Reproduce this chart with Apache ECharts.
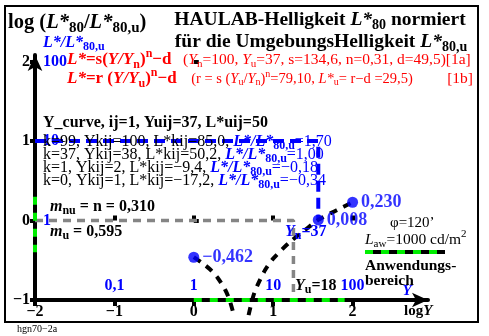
<!DOCTYPE html>
<html><head><meta charset="utf-8">
<script src="https://cdn.jsdelivr.net/npm/echarts@6/dist/echarts.min.js"></script>
<style>html,body{margin:0;padding:0;background:#fff}#c{width:489px;height:336px}</style>
</head><body><div id="c"></div>
<script>
// ---------- data ----------
const xTicks = [-2, -1, 0, 1, 2];
const xTickLabels = ['−2', '−1', '0', '1', '2'];
const xBlueTicks = [-1, 0, 1, 2];
const xBlueLabels = ['0,1', '1', '10', '100'];
const yTicks = [-1, 0, 1, 2];
const yTickLabels = ['−1', '0', '1', '2'];
const yBlueTicks = [0, 1, 2];
const yBlueLabels = ['1', '10', '100'];

const curveLeftLogY = [0, 0.1, 0.2, 0.3, 0.4, 0.45, 0.5];
const curveLeftVal = [-0.46, -0.53, -0.61, -0.72, -0.88, -1.0, -1.17];
const curveRightLogY = [0.69, 0.75, 0.8, 0.9, 1.0, 1.2, 1.4, 1.568, 1.8, 2.0];
const curveRightVal = [-1.19, -0.95, -0.82, -0.62, -0.48, -0.28, -0.12, 0.008, 0.13, 0.23];

const dotLogY = [0, 1.568, 2];
const dotVal = [-0.462, 0.008, 0.230];
const dotLabels = ['−0,462', '0,008', '0,230'];

const grayRefX = [-2, 1.255, 1.255];
const grayRefY = [0, 0, -1];
const blueRefX = [-2, 1.568, 1.568];
const blueRefY = [1, 1, 0.008];
const greenXRange = [0, 1.9];
const greenYRange = [0.3, -0.4];

const kRows = ['99', '37', '1', '0'];
const ykRows = ['100', '38', '2', '1'];
const lkRows = ['85,0', '50,2', '−9,4', '−17,2'];
const ratioRows = ['1,70', '1,00', '−0,18', '−0,34'];

// ---------- styling helpers ----------
const F = "'Liberation Serif','Times New Roman',serif";
const BLUE = '#0000ff', RED = '#ff0000', GREEN = '#00ee00', GRAY = '#858585';
function R(color, size, pre) {
  pre = pre || '';
  const base = {fontFamily: F, fill: color, color: color, fontSize: size, fontWeight: 'normal', fontStyle: 'normal'};
  const s = Math.round(size * 0.72);
  const o = {};
  o[pre + 'n'] = Object.assign({}, base);
  o[pre + 'b'] = Object.assign({}, base, {fontWeight: 'bold'});
  o[pre + 'i'] = Object.assign({}, base, {fontStyle: 'italic'});
  o[pre + 'bi'] = Object.assign({}, base, {fontWeight: 'bold', fontStyle: 'italic'});
  o[pre + 's'] = Object.assign({}, base, {fontSize: s, padding: [Math.round(size * 0.5), 0, 0, 0]});
  o[pre + 'sb'] = Object.assign({}, base, {fontSize: s, fontWeight: 'bold', padding: [Math.round(size * 0.5), 0, 0, 0]});
  o[pre + 'p'] = Object.assign({}, base, {fontSize: s, padding: [0, 0, Math.round(size * 0.7), 0]});
  o[pre + 'pb'] = Object.assign({}, base, {fontSize: s, fontWeight: 'bold', padding: [0, 0, Math.round(size * 0.7), 0]});
  return o;
}
function T(x, y, text, rich, align) {
  return {type: 'text', x: x, y: y, z: 10, silent: true,
    style: {text: text, rich: rich, align: align || 'left', verticalAlign: 'middle', fontFamily: F}};
}
const pairs = (xs, ys) => xs.map((x, i) => [x, ys[i]]);

// ---------- texts ----------
const graphics = [];
graphics.push({type: 'rect', shape: {x: 5, y: 6, width: 473, height: 316}, style: {fill: 'none', stroke: '#000', lineWidth: 2}, z: 10});
graphics.push(T(8, 23, '{b|log (}{bi|L*}{sb|80}{b|/}{bi|L*}{sb|80,u}{b|)}', R('#000', 20.5)));
graphics.push(T(320, 20, '{b|HAULAB-Helligkeit }{bi|L*}{sb|80}{b| normiert}', R('#000', 19.5), 'center'));
graphics.push(T(321, 42, '{b|für die UmgebungsHelligkeit }{bi|L*}{sb|80,u}', R('#000', 19.5), 'center'));
graphics.push(T(43, 43, '{bi|L*/L*}{sb|80,u}', R(BLUE, 16)));
const redRich = Object.assign({}, R(RED, 17, 'a'), R(RED, 15.5, 'c'), R(RED, 14.5, 'd'));
graphics.push(T(67, 60, '{abi|L*}{ab|=s(}{abi|Y/Y}{asb|n}{ab|)}{apb|n}{ab|−d}{cn|   (}{ci|Y}{cs|n}{cn|=100, }{ci|Y}{cs|u}{cn|=37, s=134,6, n=0,31, d=49,5)[1a]}', redRich));
graphics.push(T(67, 79, '{abi|L*}{ab|=r (}{abi|Y/Y}{asb|u}{ab|)}{apb|n}{ab|−d}{dn|    (r = s (}{di|Y}{ds|u}{dn|/}{di|Y}{ds|n}{dn|)}{dp|n}{dn|=79,10, }{di|L*}{ds|u}{dn|= r−d =29,5)}', redRich));
graphics.push(T(473, 79, '{cn|[1b]}', redRich, 'right'));
graphics.push(T(43, 123, '{b|Y_curve, ij=1, Yuij=37, L*uij=50}', R('#000', 16)));
const rowY = [142, 155, 168, 181];
const rowRich = Object.assign({}, R('#000', 16, 'k'), R(BLUE, 16, 'u'));
kRows.forEach((k, i) => {
  graphics.push(T(43, rowY[i], '{kn|k=' + k + ', Ykij=' + ykRows[i] + ', L*kij=' + lkRows[i] + ', }{ubi|L*/L*}{usb|80,u}{un|=' + ratioRows[i] + '}', rowRich));
});
graphics.push(T(50, 207, '{bi|m}{sb|nu}{b| = n = 0,310}', R('#000', 16)));
graphics.push(T(50, 232, '{bi|m}{sb|u}{b| = 0,595}', R('#000', 16)));
graphics.push(T(390, 223, '{n|φ=120’}', R('#000', 15)));
graphics.push(T(365, 240, '{i|L}{s|aw}{n|=1000 cd/m}{p|2}', R('#000', 15.5)));
graphics.push(T(365, 266, '{b|Anwendungs-}', R('#000', 15.5)));
graphics.push(T(365, 281, '{b|bereich}', R('#000', 15.5)));
graphics.push(T(285, 232, '{bi|Y}{sb|u}{b|=37}', R(BLUE, 16)));
graphics.push(T(295, 286, '{bi|Y}{sb|u}{b|=18}', R('#000', 16)));
graphics.push(T(407, 291, '{bi|Y}', R(BLUE, 15), 'center'));
graphics.push(T(404, 311, '{b|log}{bi|Y}', R('#000', 15)));
graphics.push(T(17, 329, '{n|hgn70−2a}', R('#000', 10)));
graphics.push({type: 'line', shape: {x1: 365, y1: 252, x2: 445, y2: 252}, style: {stroke: '#000', lineWidth: 4}, z: 10});
graphics.push({type: 'line', shape: {x1: 365, y1: 252, x2: 445, y2: 252}, style: {stroke: GREEN, lineWidth: 4, lineDash: [8, 8]}, z: 11});

const lab = (ticks, labels) => (v) => { const i = ticks.findIndex(t => Math.abs(t - v) < 1e-9); return i < 0 ? '' : labels[i]; };

const chart = echarts.init(document.getElementById('c'), null, {renderer: 'canvas'});
chart.setOption({
  animation: false,
  backgroundColor: '#fff',
  grid: {left: 35, right: 61, top: 55, bottom: 36},
  xAxis: [
    {type: 'value', min: -2, max: 2.95, position: 'bottom',
      axisLine: {onZero: false, lineStyle: {color: '#000', width: 4}, symbol: ['none', 'arrow'], symbolSize: [11, 16]},
      axisTick: {show: true, customValues: xTicks, length: 6, lineStyle: {color: '#000', width: 4}},
      axisLabel: {customValues: xTicks, formatter: lab(xTicks, xTickLabels), color: '#000', fontFamily: F, fontWeight: 'bold', fontSize: 16, margin: 4},
      splitLine: {show: false}},
    {type: 'value', min: -2, max: 2.95, position: 'bottom',
      axisLine: {show: false},
      axisTick: {show: true, inside: true, customValues: xBlueTicks, length: 5, lineStyle: {color: '#000', width: 4}},
      axisLabel: {inside: true, customValues: xBlueTicks, formatter: lab(xBlueTicks, xBlueLabels), color: BLUE, fontFamily: F, fontWeight: 'bold', fontSize: 16, margin: 6},
      splitLine: {show: false}}
  ],
  yAxis: [
    {type: 'value', min: -1, max: 2.083, position: 'left',
      axisLine: {onZero: false, lineStyle: {color: '#000', width: 4}, symbol: ['none', 'arrow'], symbolSize: [11, 16]},
      axisTick: {show: true, customValues: yTicks, length: 5, lineStyle: {color: '#000', width: 4}},
      axisLabel: {customValues: yTicks, formatter: lab(yTicks, yTickLabels), color: '#000', fontFamily: F, fontWeight: 'bold', fontSize: 16, margin: 5},
      splitLine: {show: false}},
    {type: 'value', min: -1, max: 2.083, position: 'left',
      axisLine: {show: false},
      axisTick: {show: true, inside: true, customValues: yTicks, length: 5, lineStyle: {color: '#000', width: 4}},
      axisLabel: {inside: true, customValues: yBlueTicks, formatter: lab(yBlueTicks, yBlueLabels), color: BLUE, fontFamily: F, fontWeight: 'bold', fontSize: 16, margin: 8},
      splitLine: {show: false}}
  ],
  graphic: graphics,
  series: [
    {type: 'line', data: pairs(grayRefX, grayRefY), symbol: 'none', clip: false, silent: true, z: 3,
      lineStyle: {color: GRAY, width: 3.5, type: [8, 6]}},
    {type: 'line', data: pairs(blueRefX, blueRefY), symbol: 'none', clip: false, silent: true, z: 3,
      lineStyle: {color: BLUE, width: 4, type: [11, 6]}},
    {type: 'line', data: pairs(greenXRange, [-1, -1]), symbol: 'none', clip: false, silent: true, z: 4,
      lineStyle: {color: GREEN, width: 4, type: [8, 8]}},
    {type: 'line', data: pairs([-2, -2], greenYRange), symbol: 'none', clip: false, silent: true, z: 4,
      lineStyle: {color: GREEN, width: 4, type: [8, 8]}},
    {type: 'line', data: pairs(curveLeftLogY, curveLeftVal), symbol: 'none', smooth: 0.3, clip: false, silent: true, z: 5,
      lineStyle: {color: '#000', width: 4, type: [8, 7]}},
    {type: 'line', data: pairs(curveRightLogY, curveRightVal), symbol: 'none', smooth: 0.3, clip: false, silent: true, z: 5,
      lineStyle: {color: '#000', width: 4, type: [8, 7]}},
    {type: 'scatter', data: pairs(dotLogY, dotVal), symbol: 'circle', symbolSize: 11, clip: false, silent: true, z: 6,
      itemStyle: {color: BLUE},
      label: {show: true, position: 'right', distance: 3, color: BLUE, fontFamily: F, fontWeight: 'bold', fontSize: 18,
        formatter: p => dotLabels[p.dataIndex]}}
  ]
});
</script></body></html>
